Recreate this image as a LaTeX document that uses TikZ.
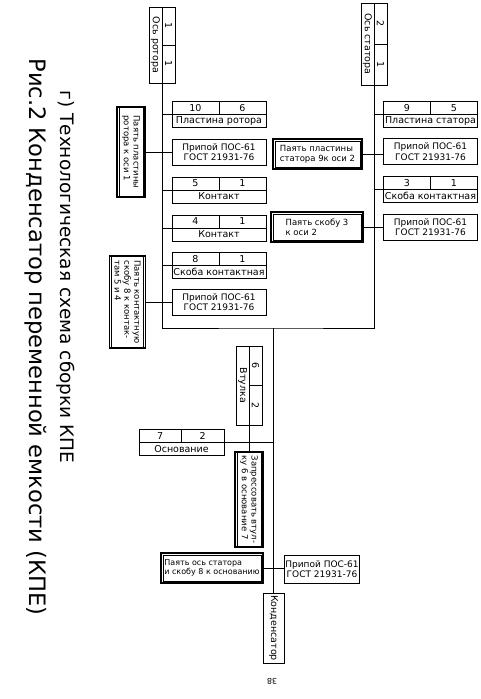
\documentclass[tikz,border=0pt]{standalone}
\usepackage{fontspec}
\setmainfont{DejaVu Sans}
\usetikzlibrary{positioning}
\newcommand\cardfont{\fontsize{9.5}{11}\selectfont}
\newcommand\opfont{\fontsize{8.5}{9.8}\selectfont}

\begin{document}
\begin{tikzpicture}[x=1pt,y=1pt,
    namerow/.style={draw,line width=.7pt,minimum height=13pt,inner sep=0pt,outer sep=0pt,font=\cardfont},
    numcell/.style={namerow},
    solder/.style={draw,line width=.7pt,align=center,minimum width=94pt,minimum height=26pt,
                   inner sep=1pt,outer sep=0pt,font=\fontsize{9}{10.5}\selectfont},
    oper/.style={draw,line width=1.1pt,align=left,inner sep=2pt,outer sep=0pt,font=\opfont,
                 path picture={\draw[line width=.5pt]
                   ([shift={(2.2pt,2.2pt)}]path picture bounding box.south west) rectangle
                   ([shift={(-2.2pt,-2.2pt)}]path picture bounding box.north east);}},
    link/.style={line width=.8pt}]
  \useasboundingbox (0,0) rectangle (480,699);

  % part cards, horizontal
  \foreach \n/\x/\y/\w/\a/\b/\t in {pr/219/578/94/10/6/Пластина ротора,
      k5/219/502.5/94/5/1/Контакт, k4/219/464.5/94/4/1/Контакт,
      sk8/219/427/94/8/1/Скоба контактная, ps/430.5/578/94/9/5/Пластина статора,
      sk3/430.5/503/94/3/1/Скоба контактная, osn/181.5/250/85/7/2/Основание}{
    \node[namerow,minimum width=\w pt] (\n) at (\x,\y) {\t};
    \node[numcell,minimum width=\w pt/2,anchor=south west] (\n a) at (\n.north west) {\a};
    \node[numcell,minimum width=\w pt/2,anchor=south east] (\n b) at (\n.north east) {\b};
  }

  % part cards, turned
  \node[namerow,rotate=-90,minimum width=76pt] (ra) at (155.5,654) {Ось ротора};
  \node[numcell,rotate=-90,minimum width=38pt,anchor=south west] (raa) at (ra.north west) {1};
  \node[numcell,rotate=-90,minimum width=38pt,anchor=south east] (rab) at (ra.north east) {1};
  \node[namerow,rotate=-90,minimum width=82pt] (sa) at (367.5,655) {Ось статора};
  \node[numcell,rotate=-90,minimum width=41pt,anchor=south west] (saa) at (sa.north west) {2};
  \node[numcell,rotate=-90,minimum width=41pt,anchor=south east] (sab) at (sa.north east) {1};
  \node[namerow,rotate=-90,minimum width=79pt] (vt) at (242.5,313.5) {Втулка};
  \node[numcell,rotate=-90,minimum width=39.5pt,anchor=south west] (vta) at (vt.north west) {6};
  \node[numcell,rotate=-90,minimum width=39.5pt,anchor=south east] (vtb) at (vt.north east) {2};

  % solder
  \node[solder] (sr1) at (219,547) {Припой ПОС-61\\ГОСТ 21931-76};
  \node[solder] (sr2) at (219,397) {Припой ПОС-61\\ГОСТ 21931-76};
  \node[solder] (ss1) at (430.5,547.5) {Припой ПОС-61\\ГОСТ 21931-76};
  \node[solder] (ss2) at (430.5,472) {Припой ПОС-61\\ГОСТ 21931-76};
  \node[solder,minimum width=68pt,minimum height=28pt] (sb) at (322,130) {Припой ПОС-61\\ГОСТ 21931-76};

  % operations
  \node[oper,rotate=-90,minimum width=90pt,minimum height=28pt] (opr) at (131,547) {Паять пластины\\ротора к оси 1};
  \node[oper,rotate=-90,minimum width=92pt,minimum height=36pt] (opk) at (127.5,397) {Паять контактную\\скобу 8 к контак-\\там 5 и 4};
  \node[oper,minimum width=89pt,minimum height=30pt] (ops) at (317.5,545) {Паять пластины\\статора 9к оси 2};
  \node[oper,minimum width=92pt,minimum height=30pt] (opsk) at (317,472) {Паять скобу 3\\к оси 2};
  \node[oper,rotate=-90,minimum width=95pt,minimum height=28pt] (zap) at (249,199.5) {Запрессовать втул-\\ку 6 в основание 7};
  \node[oper,minimum width=102pt,minimum height=30pt,font=\fontsize{8}{9.4}\selectfont] (opo) at (212,131) {Паять ось статора\\и скобу 8 к основанию};

  \node[namerow,rotate=-90,minimum width=70pt,minimum height=21pt] (kond) at (273.5,71) {Конденсатор};

  % lines
  \coordinate (jn) at (273.5,371);
  \draw[link] (ra.north east) |- (jn) -| (sa.north east);
  \draw[link] (jn) -- (kond.west);
  \foreach \n in {pr,k5,k4,sk8}
    \draw[link] (ra.north east |- \n.north west) -- (\n.north west);
  \foreach \n in {ps,sk3}
    \draw[link] (sa.north east |- \n.north west) -- (\n.north west);
  \draw[link] (opr.north) -- (opr.north -| sr1.west);
  \draw[link] (opk.north) -- (opk.north -| sr2.west);
  \draw[link] (ops.east) -- (ops.east -| ss1.west);
  \draw[link] (opsk.east) -- (opsk.east -| ss2.west);
  \draw[link] (osn.north east) -- (osn.north east -| jn);
  \draw[link] (vt.north east) -- (zap.west);
  \draw[link] (opo.east) -- (opo.east -| sb.west);

  % captions
  \node[rotate=-90,font=\fontsize{18.5}{20}\selectfont] (cap1) at (66,422) {г) Технологическая схема сборки КПЕ};
  \node[rotate=-90,font=\fontsize{22.6}{24}\selectfont] (cap2) at (36,362) {Рис.2 Конденсатор переменной емкости (КПЕ)};
  \node[rotate=180,font=\fontsize{8}{9}\selectfont] (pg) at (272,18) {38};
\end{tikzpicture}
\end{document}
